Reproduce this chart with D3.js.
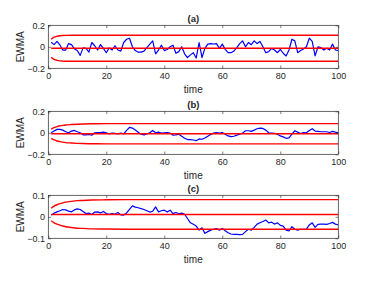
<!DOCTYPE html>
<html><head><meta charset="utf-8">
<script src="https://cdn.jsdelivr.net/npm/d3@7"></script>
<style>
html,body{margin:0;padding:0;background:#fff;}
svg{display:block;}
text{font-family:"Liberation Sans",Arial,Helvetica,sans-serif;fill:#262626;}
</style></head>
<body>
<script>
const titles = ["(a)", "(b)", "(c)"];
const xTicks = [0, 20, 40, 60, 80, 100];
const yTicksAB = [-0.2, 0, 0.2];
const yTicksC = [-0.1, 0, 0.1];
const yDomains = [[-0.2, 0.2], [-0.2, 0.2], [-0.1, 0.1]];

const ewmaA = [0.042,0.02,0.05,0.017,-0.03,-0.03,0.03,0.02,-0.02,-0.035,
  -0.08,-0.01,-0.014,-0.05,0.04,0.01,-0.03,0.02,-0.015,-0.055,
  -0.01,-0.03,0.01,-0.03,-0.04,0.04,0.07,0.08,0,-0.035,
  -0.05,-0.05,-0.04,-0.008,0.025,0.055,-0.065,-0.03,0.015,-0.035,
  -0.025,0,0.015,-0.06,-0.045,0,-0.065,-0.1,-0.075,-0.055,
  -0.105,0.04,-0.1,-0.014,0.025,0.03,0.026,0.03,-0.015,0.025,
  -0.024,-0.055,-0.055,-0.04,-0.008,0.03,0.055,0,0.04,0.02,
  0.055,0.03,0.05,0,-0.055,-0.045,-0.015,-0.03,-0.055,-0.025,
  -0.06,-0.085,-0.03,0.07,0.055,-0.055,-0.035,-0.02,0,0.08,
  0.05,-0.085,0,-0.008,-0.03,-0.014,-0.03,0.025,-0.03,-0.035];

const ewmaB = [0,0.016,0.032,0.032,0.025,0.01,0,0.016,0.022,0.01,
  0,-0.019,-0.019,-0.016,-0.022,0,0.003,0.003,0.006,0,
  -0.01,-0.003,-0.006,-0.01,-0.003,-0.01,0.022,0.051,0.044,0.025,
  0.006,-0.013,-0.019,-0.01,0,0.022,0,0.006,-0.003,0,
  0.003,-0.003,-0.022,-0.019,-0.013,-0.032,-0.051,-0.063,-0.063,-0.067,
  -0.073,-0.057,-0.06,-0.048,-0.032,-0.016,-0.003,0.003,-0.003,0.003,
  -0.013,-0.029,-0.035,-0.032,-0.022,-0.013,-0.003,0.019,0.019,0.013,
  0.025,0.038,0.044,0.041,0.025,0,-0.003,-0.006,-0.013,-0.029,
  -0.038,-0.051,-0.048,-0.013,0.019,0.006,-0.006,0.003,0,0.022,
  0.038,0.016,0.013,0.01,0.01,0.01,0.003,0.013,0.006,0];

const ewmaC = [0.008,0.017,0.023,0.028,0.034,0.032,0.026,0.023,0.032,0.037,
  0.034,0.025,0.015,0.017,0.011,0.022,0.023,0.018,0.025,0.015,
  0.012,0.015,0.012,0.02,0.009,0.008,0.018,0.035,0.051,0.045,
  0.042,0.038,0.034,0.028,0.022,0.026,0.046,0.023,0.028,0.031,
  0.022,0.031,0.015,0.02,0.014,0.017,0.012,-0.008,-0.028,-0.035,
  -0.043,-0.062,-0.051,-0.077,-0.069,-0.062,-0.058,-0.055,-0.062,-0.054,
  -0.065,-0.074,-0.08,-0.082,-0.082,-0.083,-0.082,-0.069,-0.058,-0.062,
  -0.049,-0.034,-0.028,-0.022,-0.015,-0.028,-0.025,-0.034,-0.028,-0.04,
  -0.043,-0.062,-0.066,-0.046,-0.058,-0.062,-0.058,-0.058,-0.057,-0.038,
  -0.028,-0.049,-0.035,-0.034,-0.034,-0.035,-0.031,-0.026,-0.034,-0.038];

const limitTimes = [1,2,3,4,5,6,8,10,12,15,20,30,100];
const uclA = [0.070,0.089,0.098,0.103,0.105,0.106,0.107,0.107,0.107,0.107,0.107,0.107,0.107];
const lclA = [-0.098,-0.117,-0.126,-0.131,-0.133,-0.134,-0.135,-0.135,-0.135,-0.135,-0.135,-0.135,-0.135];
const uclB = [0.034,0.048,0.058,0.064,0.069,0.073,0.077,0.080,0.082,0.084,0.085,0.085,0.085];
const lclB = [-0.052,-0.066,-0.076,-0.082,-0.087,-0.091,-0.095,-0.098,-0.100,-0.102,-0.103,-0.103,-0.103];
const uclC = [0.040,0.050,0.056,0.061,0.065,0.068,0.072,0.075,0.076,0.078,0.079,0.080,0.080];
const lclC = [-0.018,-0.028,-0.034,-0.039,-0.043,-0.046,-0.050,-0.053,-0.054,-0.056,-0.057,-0.058,-0.058];
const centers = [-0.014, -0.009, 0.011];

const series = [ewmaA, ewmaB, ewmaC];
const ucls = [uclA, uclB, uclC];
const lcls = [lclA, lclB, lclC];
const yTicksAll = [yTicksAB, yTicksAB, yTicksC];

const W = 374, H = 281;
const left = 48.3, right = 338.3;
const tops = [25.3, 111.3, 195.3];
const ph = 43;

const svg = d3.select("body").append("svg").attr("width", W).attr("height", H);
const x = d3.scaleLinear().domain([0, 100]).range([left, right]);
const fmt = d => d === 0 ? "0" : d3.format(".1f")(d);

for (let p = 0; p < 3; p++) {
  const top = tops[p], bot = top + ph;
  const y = d3.scaleLinear().domain(yDomains[p]).range([bot, top]);
  const g = svg.append("g");

  g.append("rect").attr("x", left).attr("y", top).attr("width", right - left).attr("height", ph)
    .attr("fill", "#fff");

  const clipId = "clip" + p;
  svg.append("clipPath").attr("id", clipId).append("rect")
    .attr("x", left).attr("y", top).attr("width", right - left).attr("height", ph);

  const plot = g.append("g").attr("clip-path", `url(#${clipId})`);
  const line = d3.line().x((d, i) => x(i + 1)).y(d => y(d));
  plot.append("path").datum(series[p]).attr("d", line)
    .attr("fill", "none").attr("stroke", "#0000ff").attr("stroke-width", 1.2).attr("stroke-linejoin", "round");

  const limLine = d3.line().x((d, i) => x(limitTimes[i])).y(d => y(d)).curve(d3.curveMonotoneX);
  [ucls[p], lcls[p]].forEach(arr => {
    plot.append("path").datum(arr).attr("d", limLine)
      .attr("fill", "none").attr("stroke", "#ff0000").attr("stroke-width", 1.4);
  });
  plot.append("line").attr("x1", x(1)).attr("x2", x(100))
    .attr("y1", y(centers[p])).attr("y2", y(centers[p]))
    .attr("stroke", "#ff0000").attr("stroke-width", 1.4);

  // axes
  const xa = g.append("g").attr("transform", `translate(0,${bot})`)
    .call(d3.axisBottom(x).tickValues(xTicks).tickSize(-2.8).tickPadding(4.5).tickFormat(d3.format("d")));
  const xt = g.append("g").attr("transform", `translate(0,${top})`)
    .call(d3.axisTop(x).tickValues(xTicks).tickSize(-2.8).tickFormat(""));
  const ya = g.append("g").attr("transform", `translate(${left},0)`)
    .call(d3.axisLeft(y).tickValues(yTicksAll[p]).tickSize(-2.8).tickPadding(3.3).tickFormat(fmt));
  const yr = g.append("g").attr("transform", `translate(${right},0)`)
    .call(d3.axisRight(y).tickValues(yTicksAll[p]).tickSize(-2.8).tickFormat(""));
  [xa, xt, ya, yr].forEach(a => {
    a.select(".domain").remove();
    a.selectAll("line").attr("stroke", "#262626").attr("stroke-width", 0.6);
    a.selectAll("text").attr("font-size", 9).attr("fill", "#262626")
      .style("font-family", '"Liberation Sans",Arial,sans-serif');
  });

  g.append("rect").attr("x", left).attr("y", top).attr("width", right - left).attr("height", ph)
    .attr("fill", "none").attr("stroke", "#262626").attr("stroke-width", 0.7);

  g.append("text").attr("x", (left + right) / 2).attr("y", top - 3.3)
    .attr("text-anchor", "middle").attr("font-size", 9.5).attr("font-weight", "bold").text(titles[p]);
  g.append("text").attr("x", (left + right) / 2).attr("y", bot + 25)
    .attr("text-anchor", "middle").attr("font-size", 10).text("time");
  g.append("text").attr("transform", `translate(24.3,${(top + bot) / 2}) rotate(-90)`)
    .attr("text-anchor", "middle").attr("font-size", 10).text("EWMA");
}
</script>
</body></html>
